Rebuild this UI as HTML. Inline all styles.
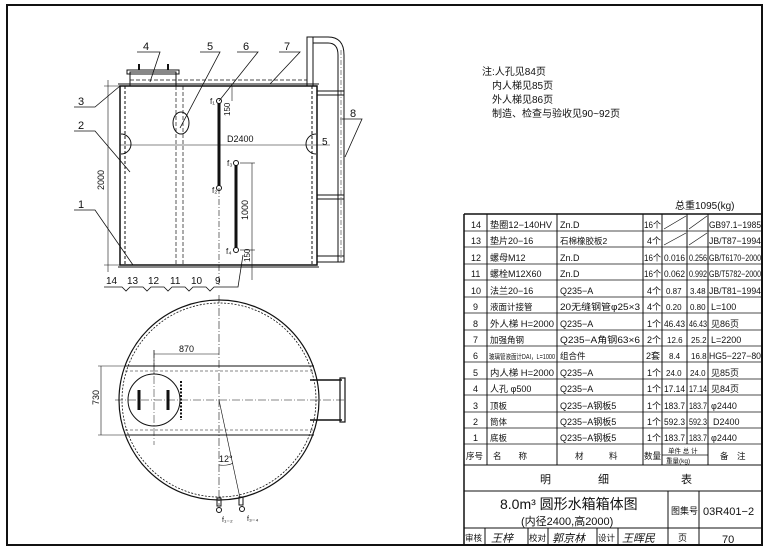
<!DOCTYPE html>
<html><head><meta charset="utf-8"><style>
body{margin:0;background:#fff;}
svg{display:block;font-family:"Liberation Sans","Noto Sans CJK SC",sans-serif;}
</style></head><body>
<svg width="770" height="553" viewBox="0 0 770 553" xmlns="http://www.w3.org/2000/svg">
<g fill="none" stroke="#111">
<rect x="7" y="5" width="755" height="540" stroke-width="2"/>

<!-- ===== elevation view ===== -->
<rect x="120" y="86" width="197" height="179" stroke-width="1.5"/>
<line x1="125" y1="86" x2="125" y2="265" stroke-dasharray="3,2"/>
<line x1="312" y1="86" x2="312" y2="265" stroke-dasharray="3,2"/>
<line x1="176" y1="86" x2="176" y2="265" stroke-dasharray="4,2" stroke-width="0.7"/>
<line x1="183" y1="86" x2="183" y2="265" stroke-dasharray="4,2" stroke-width="0.7"/>
<line x1="118" y1="84" x2="319" y2="84" stroke-width="1"/>
<line x1="118" y1="267" x2="319" y2="267" stroke-width="1"/>
<rect x="130" y="72" width="46" height="14"/>
<rect x="127" y="70" width="52" height="4"/>
<line x1="139" y1="64" x2="139" y2="70" stroke-width="2"/>
<line x1="168" y1="64" x2="168" y2="70" stroke-width="2"/>
<line x1="130" y1="80" x2="307" y2="80" stroke-dasharray="4,2" stroke-width="0.7"/>
<ellipse cx="181" cy="123" rx="8" ry="11"/>
<path d="M121 134 a10 10 0 0 1 0 20" />
<path d="M316 134 a10 10 0 0 0 0 20" />
<line x1="120" y1="145" x2="330" y2="145" stroke-width="0.6"/>
<line x1="219" y1="101" x2="219" y2="188" stroke-width="3"/>
<circle cx="219" cy="101" r="2.5" fill="#fff"/>
<circle cx="219" cy="188" r="2.5" fill="#fff"/>
<line x1="236" y1="163" x2="236" y2="250" stroke-width="3"/>
<circle cx="236" cy="163" r="2.5" fill="#fff"/>
<circle cx="236" cy="250" r="2.5" fill="#fff"/>
<line x1="219" y1="188" x2="219" y2="285" stroke-dasharray="6,2,1,2" stroke-width="0.6"/>
<line x1="232" y1="86" x2="232" y2="101" stroke-width="0.6"/>
<line x1="252" y1="163" x2="252" y2="280" stroke-width="0.6"/>
<line x1="240" y1="163" x2="255" y2="163" stroke-width="0.6"/>
<line x1="240" y1="250" x2="255" y2="250" stroke-width="0.6"/>
<path d="M307 86 V37 H313 V86" />
<path d="M313 37 H328 Q344 37 344 55 V262 H338 V55 Q338 43 328 43 H313"/>
<line x1="341" y1="50" x2="341" y2="262" stroke-dasharray="5,2,1,2" stroke-width="0.5"/>
<rect x="317" y="91" width="27" height="4"/>
<rect x="317" y="195" width="27" height="4"/>
<rect x="317" y="256" width="27" height="6"/>
<line x1="108" y1="80" x2="108" y2="272" stroke-width="0.6"/>
<line x1="104" y1="86" x2="122" y2="86" stroke-width="0.6"/>
<line x1="104" y1="265" x2="122" y2="265" stroke-width="0.6"/>
<g stroke-width="0.8">
<polyline points="137,52 160,52 150,82"/>
<polyline points="200,52 220,52 180,128"/>
<polyline points="237,52 258,52 219,101"/>
<polyline points="279,52 300,52 270,84"/>
<polyline points="74,107 95,107 120,86"/>
<polyline points="74,131 95,131 130,172"/>
<polyline points="74,210 95,210 133,265"/>
<polyline points="340,119 362,119 345,157"/>
<polyline points="232,287 238,287 243,255"/>
</g>
<path d="M104 287 H122 l4 4 l4 -4 H143 l4 4 l4 -4 H164 l4 4 l4 -4 H185 l4 4 l4 -4 H206 l4 4 l4 -4 H232" stroke-width="0.8"/>

<!-- ===== plan view ===== -->
<circle cx="219" cy="400" r="100" stroke-width="1.2"/>
<circle cx="219" cy="400" r="97" stroke-dasharray="2,1.5" stroke-width="0.8"/>
<line x1="125" y1="366" x2="314" y2="366" stroke-width="1"/>
<line x1="125" y1="371" x2="314" y2="371" stroke-dasharray="3,2" stroke-width="0.6"/>
<line x1="125" y1="435" x2="314" y2="435" stroke-width="1"/>
<line x1="125" y1="430" x2="314" y2="430" stroke-dasharray="3,2" stroke-width="0.6"/>
<circle cx="154" cy="400" r="26" stroke-width="1"/>
<line x1="139" y1="390" x2="139" y2="410" stroke-width="3"/>
<line x1="168" y1="390" x2="168" y2="410" stroke-width="3"/>
<line x1="181" y1="381" x2="181" y2="420" stroke-dasharray="2,1.5" stroke-width="2"/>
<line x1="115" y1="400" x2="345" y2="400" stroke-dasharray="8,2,1,2" stroke-width="0.6"/>
<line x1="219" y1="295" x2="219" y2="505" stroke-dasharray="8,2,1,2" stroke-width="0.6"/>
<line x1="154" y1="350" x2="154" y2="445" stroke-dasharray="8,2,1,2" stroke-width="0.5"/>
<line x1="219" y1="400" x2="240" y2="498" stroke-width="0.6"/>
<path d="M219 465 Q228 466 233 463" stroke-width="0.6"/>
<path d="M310 380 H342 M310 420 H342" stroke-width="1.5"/>
<rect x="340" y="378" width="5" height="44" stroke-width="1.2"/>
<rect x="217" y="498" width="4" height="8"/>
<circle cx="219" cy="510" r="2.5"/>
<rect x="239" y="497" width="4" height="8"/>
<circle cx="242" cy="509" r="2.5"/>
<line x1="154" y1="354" x2="219" y2="354" stroke-width="0.6"/>
<line x1="154" y1="350" x2="154" y2="374" stroke-width="0.6"/>
<line x1="101" y1="366" x2="101" y2="435" stroke-width="0.6"/>
<line x1="98" y1="366" x2="125" y2="366" stroke-width="0.6"/>
<line x1="98" y1="435" x2="125" y2="435" stroke-width="0.6"/>

<!-- ===== table ===== -->
<g stroke-width="1">
<line x1="464" y1="214" x2="762" y2="214" stroke-width="1.5"/>
<line x1="464" y1="214" x2="464" y2="545" stroke-width="1.5"/>
<line x1="762" y1="214" x2="762" y2="545" stroke-width="2"/>
<line x1="487" y1="214" x2="487" y2="465"/>
<line x1="557" y1="214" x2="557" y2="465"/>
<line x1="643" y1="214" x2="643" y2="465"/>
<line x1="662" y1="214" x2="662" y2="465"/>
<line x1="687" y1="214" x2="687" y2="444"/>
<line x1="708" y1="214" x2="708" y2="465"/>
<line x1="662" y1="455" x2="708" y2="455" stroke-width="0.7"/>
<line x1="664" y1="229" x2="686" y2="216" stroke-width="0.7"/>
<line x1="689" y1="229" x2="707" y2="216" stroke-width="0.7"/>
<line x1="664" y1="245" x2="686" y2="233" stroke-width="0.7"/>
<line x1="689" y1="245" x2="707" y2="233" stroke-width="0.7"/>
<line x1="464" y1="465" x2="762" y2="465"/>
<line x1="464" y1="491" x2="762" y2="491"/>
<line x1="464" y1="528" x2="762" y2="528"/>
<line x1="668" y1="491" x2="668" y2="545"/>
<line x1="699" y1="491" x2="699" y2="545"/>
<line x1="485" y1="528" x2="485" y2="545"/>
<line x1="528" y1="528" x2="528" y2="545"/>
<line x1="548" y1="528" x2="548" y2="545"/>
<line x1="597" y1="528" x2="597" y2="545"/>
<line x1="618" y1="528" x2="618" y2="545"/>
</g>
<g stroke-width="0.8">
<line x1="464" y1="231" x2="762" y2="231"/><line x1="464" y1="247" x2="762" y2="247"/>
<line x1="464" y1="264" x2="762" y2="264"/><line x1="464" y1="280" x2="762" y2="280"/>
<line x1="464" y1="297" x2="762" y2="297"/><line x1="464" y1="313" x2="762" y2="313"/>
<line x1="464" y1="330" x2="762" y2="330"/><line x1="464" y1="346" x2="762" y2="346"/>
<line x1="464" y1="362" x2="762" y2="362"/><line x1="464" y1="379" x2="762" y2="379"/>
<line x1="464" y1="395" x2="762" y2="395"/><line x1="464" y1="412" x2="762" y2="412"/>
<line x1="464" y1="428" x2="762" y2="428"/><line x1="464" y1="444" x2="762" y2="444"/>
</g>
</g>

<g fill="#111" font-size="11">
<text x="143" y="50">4</text><text x="207" y="50">5</text><text x="243" y="50">6</text><text x="284" y="50">7</text>
<text x="78" y="105">3</text><text x="78" y="129">2</text><text x="78" y="208">1</text>
<text x="350" y="117">8</text>
<text x="322" y="145" font-size="10">5</text>
<text x="227" y="142" font-size="9">D2400</text>
<text x="104" y="190" font-size="9" transform="rotate(-90 104 190)">2000</text>
<text x="248" y="220" font-size="9" transform="rotate(-90 248 220)">1000</text>
<text x="230" y="116" font-size="8" transform="rotate(-90 230 116)">150</text>
<text x="250" y="262" font-size="8" transform="rotate(-90 250 262)">150</text>
<text x="210" y="104" font-size="8">f₁</text><text x="212" y="193" font-size="8">f₂</text>
<text x="227" y="166" font-size="8">f₃</text><text x="226" y="254" font-size="8">f₄</text>
<text x="106" y="284" font-size="10">14</text><text x="127" y="284" font-size="10">13</text>
<text x="148" y="284" font-size="10">12</text><text x="170" y="284" font-size="10">11</text>
<text x="191" y="284" font-size="10">10</text><text x="215" y="284" font-size="10">9</text>
<text x="179" y="352" font-size="9">870</text>
<text x="99" y="405" font-size="9" transform="rotate(-90 99 405)">730</text>
<text x="219" y="462" font-size="9">12°</text>
<text x="222" y="522" font-size="7">f₁₋₂</text><text x="247" y="521" font-size="7">f₃₋₄</text>
<g font-size="10">
<text x="482" y="75">注:人孔见84页</text>
<text x="492" y="89">内人梯见85页</text>
<text x="492" y="103">外人梯见86页</text>
<text x="492" y="117">制造、检查与验收见90~92页</text>
</g>
<text x="675" y="209" font-size="10">总重1095(kg)</text>
<g font-size="9" lengthAdjust="spacingAndGlyphs">
<text x="471" y="228">14</text><text x="490" y="228" textLength="62" lengthAdjust="spacingAndGlyphs">垫圈12−140HV</text><text x="560" y="228">Zn.D</text><text x="644" y="228" textLength="17" lengthAdjust="spacingAndGlyphs">16个</text><text x="709" y="228" textLength="52" lengthAdjust="spacingAndGlyphs">GB97.1−1985</text>
<text x="471" y="244">13</text><text x="490" y="244">垫片20−16</text><text x="560" y="244" font-size="8.5">石棉橡胶板2</text><text x="647" y="244">4个</text><text x="709" y="244" textLength="52" lengthAdjust="spacingAndGlyphs">JB/T87−1994</text>
<text x="471" y="261">12</text><text x="490" y="261">螺母M12</text><text x="560" y="261">Zn.D</text><text x="644" y="261" textLength="17" lengthAdjust="spacingAndGlyphs">16个</text><text x="664" y="261" textLength="21" lengthAdjust="spacingAndGlyphs">0.016</text><text x="689" y="261" textLength="18" lengthAdjust="spacingAndGlyphs">0.256</text><text x="709" y="261" textLength="52" lengthAdjust="spacingAndGlyphs">GB/T6170−2000</text>
<text x="471" y="277">11</text><text x="490" y="277">螺栓M12X60</text><text x="560" y="277">Zn.D</text><text x="644" y="277" textLength="17" lengthAdjust="spacingAndGlyphs">16个</text><text x="664" y="277" textLength="21" lengthAdjust="spacingAndGlyphs">0.062</text><text x="689" y="277" textLength="18" lengthAdjust="spacingAndGlyphs">0.992</text><text x="709" y="277" textLength="52" lengthAdjust="spacingAndGlyphs">GB/T5782−2000</text>
<text x="471" y="294">10</text><text x="490" y="294">法兰20−16</text><text x="560" y="294">Q235−A</text><text x="647" y="294">4个</text><text x="666" y="294" font-size="8">0.87</text><text x="690" y="294" font-size="8">3.48</text><text x="709" y="294" textLength="52" lengthAdjust="spacingAndGlyphs">JB/T81−1994</text>
<text x="473" y="310">9</text><text x="490" y="310" font-size="8.5">液面计接管</text><text x="560" y="310" textLength="80" lengthAdjust="spacingAndGlyphs">20无缝钢管φ25×3</text><text x="647" y="310">4个</text><text x="666" y="310" font-size="8">0.20</text><text x="690" y="310" font-size="8">0.80</text><text x="711" y="310">L=100</text>
<text x="473" y="327">8</text><text x="490" y="327" textLength="64" lengthAdjust="spacingAndGlyphs">外人梯 H=2000</text><text x="560" y="327">Q235−A</text><text x="647" y="327">1个</text><text x="664" y="327" textLength="21" lengthAdjust="spacingAndGlyphs">46.43</text><text x="689" y="327" textLength="18" lengthAdjust="spacingAndGlyphs">46.43</text><text x="711" y="327">见86页</text>
<text x="473" y="343">7</text><text x="490" y="343" font-size="8.5">加强角钢</text><text x="560" y="343" textLength="80" lengthAdjust="spacingAndGlyphs">Q235−A角钢63×6</text><text x="647" y="343">2个</text><text x="667" y="343" font-size="8">12.6</text><text x="691" y="343" font-size="8">25.2</text><text x="711" y="343">L=2200</text>
<text x="473" y="359">6</text><text x="489" y="359" textLength="66" lengthAdjust="spacingAndGlyphs" font-size="7">玻璃管液面计DAI，L=1000</text><text x="560" y="359" font-size="8.5">组合件</text><text x="646" y="359">2套</text><text x="669" y="359" font-size="8">8.4</text><text x="691" y="359" font-size="8">16.8</text><text x="709" y="359" textLength="52" lengthAdjust="spacingAndGlyphs">HG5−227−80</text>
<text x="473" y="376">5</text><text x="490" y="376" textLength="64" lengthAdjust="spacingAndGlyphs">内人梯 H=2000</text><text x="560" y="376">Q235−A</text><text x="647" y="376">1个</text><text x="666" y="376" font-size="8">24.0</text><text x="690" y="376" font-size="8">24.0</text><text x="711" y="376">见85页</text>
<text x="473" y="392">4</text><text x="490" y="392">人孔 φ500</text><text x="560" y="392">Q235−A</text><text x="647" y="392">1个</text><text x="664" y="392" textLength="21" lengthAdjust="spacingAndGlyphs">17.14</text><text x="689" y="392" textLength="18" lengthAdjust="spacingAndGlyphs">17.14</text><text x="711" y="392">见84页</text>
<text x="473" y="409">3</text><text x="490" y="409" font-size="8.5">顶板</text><text x="560" y="409">Q235−A钢板5</text><text x="647" y="409">1个</text><text x="664" y="409" textLength="21" lengthAdjust="spacingAndGlyphs">183.7</text><text x="689" y="409" textLength="18" lengthAdjust="spacingAndGlyphs">183.7</text><text x="711" y="409">φ2440</text>
<text x="473" y="425">2</text><text x="490" y="425" font-size="8.5">筒体</text><text x="560" y="425">Q235−A钢板5</text><text x="647" y="425">1个</text><text x="664" y="425" textLength="21" lengthAdjust="spacingAndGlyphs">592.3</text><text x="689" y="425" textLength="18" lengthAdjust="spacingAndGlyphs">592.3</text><text x="713" y="425">D2400</text>
<text x="473" y="441">1</text><text x="490" y="441" font-size="8.5">底板</text><text x="560" y="441">Q235−A钢板5</text><text x="647" y="441">1个</text><text x="664" y="441" textLength="21" lengthAdjust="spacingAndGlyphs">183.7</text><text x="689" y="441" textLength="18" lengthAdjust="spacingAndGlyphs">183.7</text><text x="711" y="441">φ2440</text>
<text x="466" y="459" font-size="8.5">序号</text><text x="493" y="459" font-size="8.5">名　　称</text><text x="575" y="459" font-size="8.5">材　　　料</text><text x="644" y="459" font-size="8.5">数量</text>
<text x="668" y="453" font-size="6.5">单件 总 计</text><text x="666" y="463" font-size="6.5">重量(kg)</text><text x="720" y="459" font-size="8.5">备　注</text>
</g>
<text x="540" y="483" font-size="11">明</text><text x="598" y="483" font-size="11">细</text><text x="681" y="483" font-size="11">表</text>
<text x="500" y="509" font-size="14">8.0m³ 圆形水箱箱体图</text>
<text x="521" y="525" font-size="11">(内径2400,高2000)</text>
<text x="671" y="514" font-size="9">图集号</text>
<text x="703" y="515" font-size="11">03R401−2</text>
<text x="465" y="541" font-size="8.5">审核</text><text x="491" y="542" font-size="11" font-style="italic">王梓</text>
<text x="529" y="541" font-size="8.5">校对</text><text x="552" y="542" font-size="11" font-style="italic">郭京林</text>
<text x="598" y="541" font-size="8.5">设计</text><text x="622" y="542" font-size="11" font-style="italic">王晖民</text>
<text x="678" y="541" font-size="9">页</text><text x="722" y="543" font-size="11">70</text>
</g>
</svg>
</body></html>
